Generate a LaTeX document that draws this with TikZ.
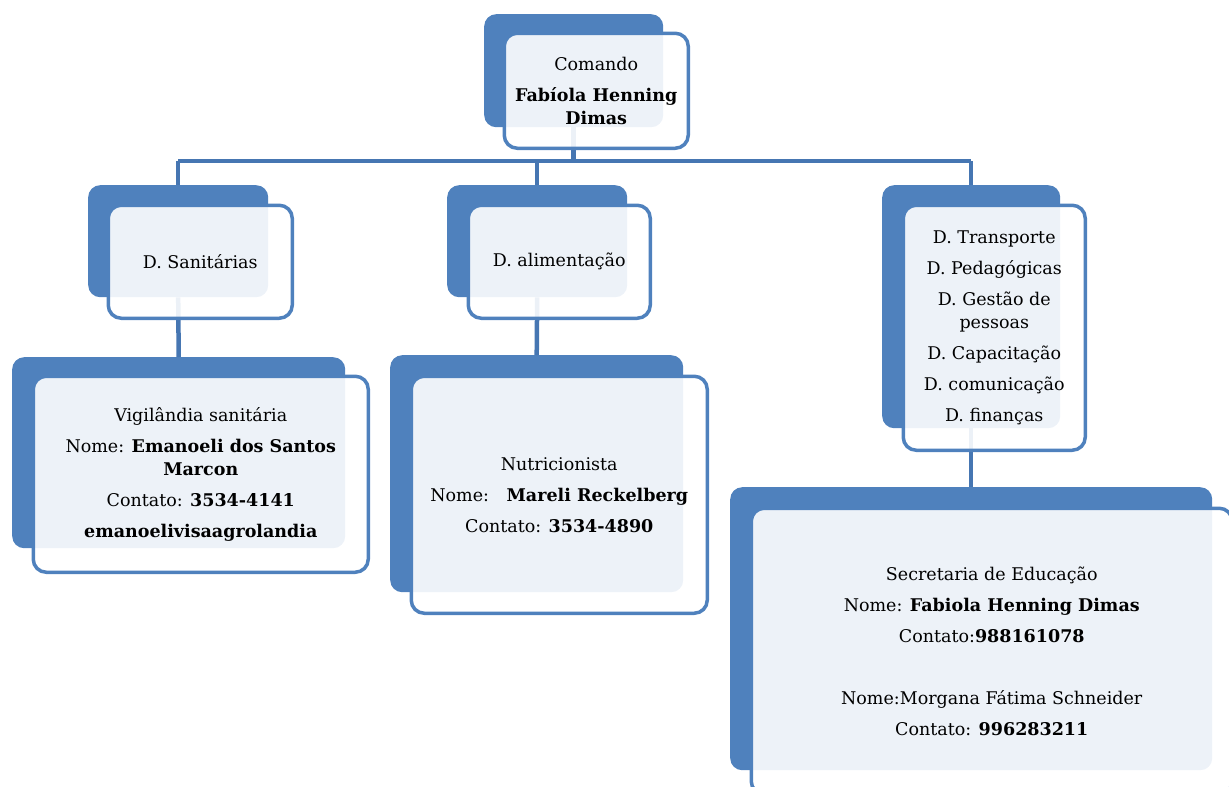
\documentclass[tikz,border=0pt]{standalone}
\usepackage{fontspec}
\setmainfont{DejaVu Serif}
\definecolor{boxblue}{HTML}{4F81BD}
\definecolor{linkblue}{HTML}{4676B2}
\begin{document}
\begin{tikzpicture}[x=1pt,y=-1pt,
  backbox/.style={fill=boxblue, draw=none, rounded corners=12pt, anchor=north west, inner sep=0pt},
  frontbox/.style={draw=boxblue, line width=3.5pt, fill=white, fill opacity=0.9, text opacity=1,
     rounded corners=13pt, anchor=north west, inner sep=0pt, align=center, text=black,
     font=\fontsize{17.5}{23}\selectfont},
  conn/.style={draw=linkblue, line width=4.5pt}]
\useasboundingbox (0,0) rectangle (1229,787);
% back boxes
\node[backbox, minimum width=179, minimum height=113] (cb) at (484,14) {};
\node[backbox, minimum width=180, minimum height=112] (sanb) at (88,185) {};
\node[backbox, minimum width=180, minimum height=112] (alib) at (447,185) {};
\node[backbox, minimum width=178, minimum height=243] (rb) at (882,185) {};
\node[backbox, minimum width=333, minimum height=191] (vigb) at (12,357) {};
\node[backbox, minimum width=293, minimum height=237] (nutb) at (390,355) {};
\node[backbox, minimum width=482, minimum height=283] (secb) at (730,487) {};
% connectors
\coordinate (bus) at (0,161);
\draw[conn] (cb.south) -- (cb.south |- bus);
\draw[conn] (sanb.north |- bus) -- (rb.north |- bus);
\draw[conn] (sanb.north |- bus) -- (sanb.north);
\draw[conn] (alib.north |- bus) -- (alib.north);
\draw[conn] (rb.north |- bus) -- (rb.north);
\draw[conn] (sanb.south) -- (vigb.north);
\draw[conn] (alib.south) -- (nutb.north);
\draw[conn] (rb.south) -- (secb.north);
% front boxes
\node[frontbox, minimum width=184, minimum height=115] (cf) at (502.5,31.5)
  {Comando\\[8pt]\textbf{Fabíola Henning}\\\textbf{Dimas}};
\node[frontbox, minimum width=184, minimum height=113] (sanf) at (106.5,203.5)
  {D. Sanitárias};
\node[frontbox, minimum width=182, minimum height=113] (alif) at (466.5,203.5)
  {D. alimentação};
\node[frontbox, minimum width=182, minimum height=245] (rf) at (901.5,203.5)
  {D. Transporte\\[8pt]D. Pedagógicas\\[8pt]D. Gestão de\\pessoas\\[8pt]D. Capacitação\\[8pt]D. comunicação\\[8pt]D. finanças};
\node[frontbox, minimum width=335, minimum height=196] (vigf) at (31.5,374.5)
  {Vigilândia sanitária\\[8pt]Nome: \textbf{Emanoeli dos Santos}\\\textbf{Marcon}\\[8pt]Contato: \textbf{3534-4141}\\[8pt]\textbf{emanoelivisaagrolandia}};
\node[frontbox, minimum width=296, minimum height=237] (nutf) at (409.5,374.5)
  {Nutricionista\\[8pt]Nome:\quad\textbf{Mareli Reckelberg}\\[8pt]Contato: \textbf{3534-4890}};
\node[frontbox, minimum width=481, minimum height=286] (secf) at (749.5,506.5)
  {Secretaria de Educação\\[8pt]Nome: \textbf{Fabiola Henning Dimas}\\[8pt]Contato:\textbf{988161078}\\[8pt]\mbox{}\\[8pt]Nome:Morgana Fátima Schneider\\[8pt]Contato: \textbf{996283211}};
\end{tikzpicture}
\end{document}
